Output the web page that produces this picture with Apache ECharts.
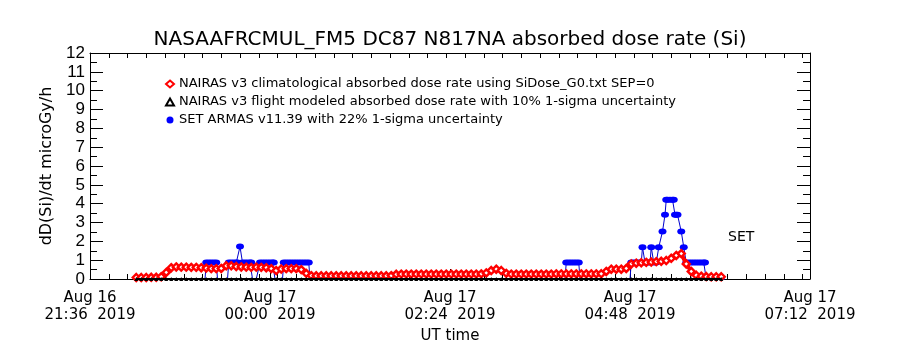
<!DOCTYPE html>
<html><head><meta charset="utf-8">
<script src="https://cdn.jsdelivr.net/npm/echarts@6/dist/echarts.min.js"></script>
<style>html,body{margin:0;padding:0;background:#fff}#c{width:900px;height:350px}</style>
</head><body><div id="c"></div><script>
// Time is in minutes after Aug 16 2019 21:36 UT
const chartTitle = 'NASAAFRCMUL_FM5 DC87 N817NA absorbed dose rate (Si)';
const seriesNames = [
  'NAIRAS v3 climatological absorbed dose rate using SiDose_G0.txt SEP=0',
  'NAIRAS v3 flight modeled absorbed dose rate with 10% 1-sigma uncertainty',
  'SET ARMAS v11.39 with 22% 1-sigma uncertainty'
];
const xTickLabels = ['Aug 16\n21:36  2019', 'Aug 17\n00:00  2019', 'Aug 17\n02:24  2019', 'Aug 17\n04:48  2019', 'Aug 17\n07:12  2019'];
const yAxisTitle = 'dD(Si)/dt microGy/h';
const xAxisTitle = 'UT time';
const setLabelText = 'SET';
const setLabelAt = [521, 2.23];

const modelMinutes = [37,41,45,49,53,57,61,65,69,73,77,81,85,89,93,97,101,105,109,113,117,121,125,129,133,137,141,145,149,153,157,161,165,169,173,177,181,185,189,193,197,201,205,209,213,217,221,225,229,233,237,241,245,249,253,257,261,265,269,273,277,281,285,289,293,297,301,305,309,313,317,321,325,329,333,337,341,345,349,353,357,361,365,369,373,377,381,385,389,393,397,401,405,409,413,417,421,425,429,433,437,441,445,449,453,457,461,465,469,473,477,481,485,489,493,497,501,505];
const climDose = [0.08,0.08,0.08,0.09,0.09,0.12,0.35,0.6,0.64,0.63,0.63,0.62,0.62,0.6,0.58,0.55,0.55,0.56,0.7,0.7,0.66,0.64,0.63,0.62,0.63,0.62,0.6,0.55,0.45,0.53,0.55,0.55,0.55,0.5,0.3,0.18,0.17,0.17,0.17,0.17,0.17,0.17,0.17,0.17,0.17,0.17,0.17,0.17,0.17,0.17,0.17,0.18,0.25,0.26,0.26,0.26,0.26,0.26,0.26,0.26,0.26,0.26,0.26,0.26,0.26,0.26,0.26,0.26,0.26,0.27,0.32,0.45,0.52,0.45,0.3,0.26,0.26,0.26,0.26,0.26,0.26,0.26,0.26,0.26,0.27,0.27,0.27,0.27,0.27,0.27,0.27,0.27,0.27,0.28,0.4,0.52,0.52,0.52,0.56,0.8,0.84,0.86,0.88,0.9,0.92,0.94,0.98,1.1,1.25,1.35,0.8,0.4,0.2,0.15,0.13,0.12,0.12,0.12];
const flightDose = [0,0,0,0,0,0,0,0,0,0,0,0,0,0,0,0,0,0,0,0,0,0,0,0,0,0,0,0,0,0,0,0,0,0,0,0,0,0,0,0,0,0,0,0,0,0,0,0,0,0,0,0,0,0,0,0,0,0,0,0,0,0,0,0,0,0,0,0,0,0,0,0,0,0,0,0,0,0,0,0,0,0,0,0,0,0,0,0,0,0,0,0,0,0,0,0,0,0,0,0,0,0,0,0,0,0,0,0,0,0,0,0,0,0,0,0,0,0];

const setMinutes = [37,45,53,61,69,77,85,92,
  93,95,97,99,101,102,106,110,
  111,113,115,117,118,120,122,124,126,128,129,130,133,
  136,138,140,142,144,146,147,148,151,154,
  155,157,159,161,163,165,167,169,171,173,175,176,
  184,192,200,208,216,224,232,240,248,256,264,272,280,288,296,304,312,320,328,336,344,352,360,368,376,380,
  381,383,385,387,389,391,392,400,408,416,424,432,
  433,435,437,439,441,442,444,446,448,449,451,453,455,458,460,461,462,464,466,467,468,469,470,473,475,
  477,479,481,483,485,487,489,491,492,493,500,507];
const setDose = [0,0,0,0,0,0,0,0,
  0.87,0.87,0.87,0.87,0.87,0,0,0,
  0.87,0.87,0.87,0.87,0.87,1.72,0.87,0.87,0.87,0.87,0.87,0,0,
  0.87,0.87,0.87,0.87,0.87,0.87,0.87,0,0,0,
  0.87,0.87,0.87,0.87,0.87,0.87,0.87,0.87,0.87,0.87,0.87,0,
  0,0,0,0,0,0,0,0,0,0,0,0,0,0,0,0,0,0,0,0,0,0,0,0,0,0,
  0.87,0.87,0.87,0.87,0.87,0.87,0,0,0,0,0,0,
  0.87,0.87,0.87,0.87,0.87,1.69,0.87,0.87,0.87,1.69,0.87,0.87,1.69,2.52,3.41,4.21,4.21,4.21,4.21,4.21,3.41,3.41,3.41,2.52,1.69,
  0.87,0.87,0.87,0.87,0.87,0.87,0.87,0.87,0.87,0,0,0];

const zip = (xs, ys) => xs.map((x, i) => [x, ys[i]]);
const FONT = 'DejaVu Sans';
const chart = echarts.init(document.getElementById('c'), null, {renderer: 'canvas'});

chart.setOption({
  animation: false,
  backgroundColor: '#ffffff',
  title: {
    text: chartTitle, left: 'center', top: 25,
    textStyle: {fontFamily: FONT, fontSize: 20, fontWeight: 'normal', color: '#000'}
  },
  legend: {
    orient: 'vertical', left: 160, top: 72, itemGap: 4,
    itemWidth: 8, itemHeight: 7,
    textStyle: {fontFamily: FONT, fontSize: 13, color: '#000', lineHeight: 14},
    data: [
      {name: seriesNames[0], icon: 'diamond', itemStyle: {color: '#fff', borderColor: '#ff0000', borderWidth: 2}},
      {name: seriesNames[1], icon: 'triangle', itemStyle: {color: '#fff', borderColor: '#000', borderWidth: 2}},
      {name: seriesNames[2], icon: 'circle', itemStyle: {color: '#0000ff', borderWidth: 0}}
    ]
  },
  grid: {left: 90, top: 53, width: 720, height: 226, containLabel: false},
  xAxis: [
    {
      type: 'value', min: 0, max: 576, interval: 144, position: 'bottom',
      name: xAxisTitle, nameLocation: 'middle', nameGap: 47,
      nameTextStyle: {fontFamily: FONT, fontSize: 15, color: '#000'},
      axisLine: {show: true, onZero: false, lineStyle: {color: '#000', width: 1}},
      axisTick: {show: true, inside: true, length: 10, lineStyle: {color: '#000'}},
      axisLabel: {
        margin: 11, fontFamily: FONT, fontSize: 15, color: '#000', lineHeight: 17,
        formatter: v => xTickLabels[Math.round(v / 144)]
      },
      splitLine: {show: false}
    },
    {
      type: 'value', min: 0, max: 576, interval: 15, position: 'bottom', gridIndex: 0,
      axisLine: {show: false}, axisLabel: {show: false}, splitLine: {show: false},
      axisTick: {show: true, inside: true, length: 5, lineStyle: {color: '#000'}}
    },
    {
      type: 'value', min: 0, max: 576, interval: 15, position: 'top', gridIndex: 0,
      axisLine: {show: true, onZero: false, lineStyle: {color: '#000', width: 1}},
      axisLabel: {show: false}, splitLine: {show: false},
      axisTick: {show: true, inside: true, length: 5, lineStyle: {color: '#000'}}
    }
  ],
  yAxis: [
    {
      type: 'value', min: 0, max: 12, interval: 1, position: 'left',
      name: yAxisTitle, nameLocation: 'middle', nameGap: 31,
      nameTextStyle: {fontFamily: FONT, fontSize: 16, color: '#000'},
      axisLine: {show: true, onZero: false, lineStyle: {color: '#000', width: 1}},
      axisTick: {show: true, inside: true, length: 13, lineStyle: {color: '#000'}},
      minorTick: {show: true, splitNumber: 2, length: 7, lineStyle: {color: '#000'}},
      axisLabel: {margin: 5, fontFamily: 'Liberation Sans', fontSize: 17, color: '#000'},
      splitLine: {show: false}
    },
    {
      type: 'value', min: 0, max: 12, interval: 1, position: 'right',
      axisLine: {show: true, onZero: false, lineStyle: {color: '#000', width: 1}},
      axisTick: {show: true, inside: true, length: 13, lineStyle: {color: '#000'}},
      minorTick: {show: true, splitNumber: 2, length: 7, lineStyle: {color: '#000'}},
      axisLabel: {show: false}, splitLine: {show: false}
    }
  ],
  series: [
    {
      name: seriesNames[2], type: 'line', xAxisIndex: 0, yAxisIndex: 0, z: 3,
      data: zip(setMinutes, setDose),
      symbol: 'circle',
      symbolSize: v => (v[1] > 0 ? [8, 6] : 2),
      itemStyle: {color: '#0000ff'},
      lineStyle: {color: '#0000cc', width: 1},
      markPoint: {
        symbol: 'circle', symbolSize: 0, silent: true,
        label: {show: true, position: 'inside', formatter: setLabelText, fontFamily: FONT, fontSize: 14, color: '#000'},
        data: [{coord: setLabelAt}]
      }
    },
    {
      name: seriesNames[0], type: 'line', xAxisIndex: 0, yAxisIndex: 0, z: 4,
      data: zip(modelMinutes, climDose),
      symbol: 'diamond', symbolSize: 7,
      itemStyle: {color: '#ffffff', borderColor: '#ff0000', borderWidth: 2.4},
      lineStyle: {color: '#ff0000', width: 4}
    },
    {
      name: seriesNames[1], type: 'line', xAxisIndex: 0, yAxisIndex: 0, z: 5,
      data: zip(modelMinutes, flightDose),
      symbol: 'triangle', symbolSize: 4,
      itemStyle: {color: '#000000'},
      lineStyle: {color: '#000000', width: 2}
    }
  ]
});
</script></body></html>
